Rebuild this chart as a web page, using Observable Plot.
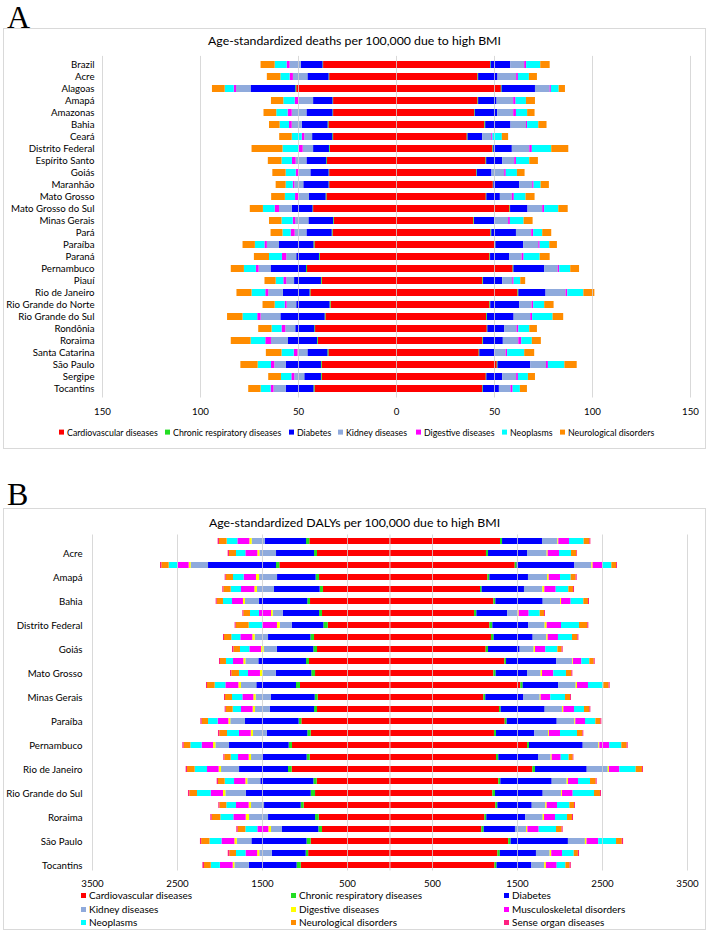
<!DOCTYPE html>
<html>
<head>
<meta charset="utf-8">
<script src="https://cdn.jsdelivr.net/npm/d3@7"></script>
<script src="https://cdn.jsdelivr.net/npm/@observablehq/plot@0.6"></script>
<style>
  body { margin: 0; background: #fff; font-family: Lato, "Open Sans", sans-serif; }
  #page { position: relative; width: 709px; height: 931px; overflow: hidden; background: #fff; }
  .plabel { position: absolute; font-family: "Liberation Serif", "DejaVu Serif", serif; font-size: 32px; line-height: 1; color: #000; }
  .frame { position: absolute; border: 1px solid #d9d9d9; box-sizing: border-box; }
  .title { position: absolute; left: 0; width: 709px; text-align: center; font-size: 12.3px; line-height: 1; color: #000; }
  .chart { position: absolute; left: 0; }
  .lg { position: absolute; line-height: 1; color: #000; white-space: nowrap; transform: translateY(-50%); }
  .lgA { font-size: 8.8px; }
  .lgB { font-size: 10px; }
  .sw { display: inline-block; width: 5px; height: 5px; margin-right: 3px; vertical-align: 1px; }
</style>
</head>
<body>
<div id="page">
  <div class="plabel" style="left:7px; top:1px;">A</div>
  <div class="frame" style="left:3px; top:28px; width:703px; height:421px;"></div>
  <div class="title" style="top:35px;">Age-standardized deaths per 100,000 due to high BMI</div>
  <div class="chart" id="chartA" style="top:48px;"></div>
  <div id="legendA"></div>

  <div class="plabel" style="left:7px; top:478px;">B</div>
  <div class="frame" style="left:3px; top:508px; width:703px; height:422px;"></div>
  <div class="title" style="top:517px;">Age-standardized DALYs per 100,000 due to high BMI</div>
  <div class="chart" id="chartB" style="top:528px;"></div>
  <div id="legendB"></div>
</div>
<script>
// ---------- categories ----------
const states = ["Brazil","Acre","Alagoas","Amapá","Amazonas","Bahia","Ceará","Distrito Federal","Espírito Santo","Goiás","Maranhão","Mato Grosso","Mato Grosso do Sul","Minas Gerais","Pará","Paraíba","Paraná","Pernambuco","Piauí","Rio de Janeiro","Rio Grande do Norte","Rio Grande do Sul","Rondônia","Roraima","Santa Catarina","São Paulo","Sergipe","Tocantins"];

const causesA = ["Cardiovascular diseases","Chronic respiratory diseases","Diabetes","Kidney diseases","Digestive diseases","Neoplasms","Neurological disorders"];
const colorsA = ["#ff0000","#22dd22","#0000ff","#8faadc","#ff00ff","#00ffff","#ff8c00"];

const causesB = ["Cardiovascular diseases","Chronic respiratory diseases","Diabetes","Kidney diseases","Digestive diseases","Musculoskeletal disorders","Neoplasms","Neurological disorders","Sense organ diseases"];
const colorsB = ["#ff0000","#22dd22","#0000ff","#8faadc","#ffff00","#ff00ff","#00ffff","#ff8c00","#ff2080"];

// tick labels
const ticksA = [-150,-100,-50,0,50,100,150];
const ticksB = [-3500,-2500,-1500,-500,500,1500,2500,3500];

// ---------- Panel A: deaths per 100,000, left side ----------
const deathsLeftCardio    = [37.2,34.1,50.9,32.1,32.1,34.5,32.1,33.8,35.2,34.1,34.1,35.5,42.3,31.7,32.4,41.6,38.9,45.4,37.9,43.7,33.4,36.0,41.3,39.9,34.5,37.9,37.9,41.6];
const deathsLeftChronic   = [0.3,0.3,0.5,0.3,0.3,0.4,0.4,0.4,0.4,0.3,0.3,0.4,0.3,0.4,0.4,0.5,0.4,0.5,0.4,0.4,0.5,0.4,0.4,0.4,0.5,0.4,0.4,0.5];
const deathsLeftDiabetes  = [11.1,10.8,22.8,9.9,13.3,13.2,10.3,8.1,10.1,9.3,12.9,8.5,10.6,12.6,12.9,17.6,11.6,18.1,13.7,13.6,17.0,22.6,9.7,14.8,10.2,18.0,8.5,14.2];
const deathsLeftKidney    = [5.7,7.4,7.4,7.5,7.5,5.1,4.0,5.3,5.5,5.8,4.6,5.3,6.5,6.7,6.0,6.2,5.1,6.1,4.0,7.5,4.9,10.1,5.1,8.7,5.1,5.8,5.1,6.2];
const deathsLeftDigestive = [1.5,1.7,1.2,1.9,2.1,1.4,1.3,2.1,1.9,1.7,0.8,1.8,2.2,1.3,2.1,1.2,2.2,1.4,1.5,1.5,1.0,1.7,1.9,2.9,1.9,1.7,1.5,1.5];
const deathsLeftNeoplasms = [6.1,4.7,4.6,5.8,5.8,4.8,5.1,8.2,5.3,5.1,3.6,5.2,6.0,5.7,4.1,4.9,6.6,6.1,3.9,7.0,5.1,7.5,5.1,7.5,6.2,6.8,5.3,5.1];
const deathsLeftNeuro     = [7.2,6.9,6.5,6.3,6.5,5.4,6.4,15.8,7.0,6.8,5.1,7.0,6.7,6.4,6.1,6.3,7.7,6.7,5.7,7.7,6.2,7.9,6.8,10.1,8.0,8.8,6.5,6.3];

// ---------- Panel A: deaths per 100,000, right side ----------
const deathsRightCardio    = [48.0,41.6,53.5,41.6,39.9,45.1,36.1,49.2,45.7,40.9,49.4,45.8,57.9,39.5,48.2,50.3,47.7,59.5,44.1,62.0,47.7,46.0,46.3,44.1,42.2,51.4,45.8,44.0];
const deathsRightChronic   = [0.3,0.3,0.4,0.3,0.3,0.4,0.4,0.4,0.3,0.3,0.3,0.3,0.3,0.3,0.4,0.4,0.3,0.4,0.3,0.4,0.4,0.4,0.3,0.3,0.3,0.4,0.3,0.3];
const deathsRightDiabetes  = [10.0,9.9,17.0,9.4,11.4,12.9,7.5,9.5,8.2,7.5,13.2,6.9,8.9,10.3,12.6,14.2,9.8,15.7,9.8,13.9,14.8,13.6,8.6,10.1,7.8,16.7,8.1,8.2];
const deathsRightKidney    = [7.1,9.5,7.5,8.5,8.2,7.9,4.6,8.9,6.1,6.5,6.6,6.1,7.5,7.1,7.8,7.7,6.3,6.9,5.1,10.2,6.3,8.5,6.3,7.9,5.6,8.0,7.1,5.9];
const deathsRightDigestive = [1.0,0.9,0.6,1.2,1.4,0.6,0.6,1.3,0.9,0.8,0.7,1.0,1.0,0.9,1.0,0.7,1.0,0.8,0.7,0.9,0.8,1.0,0.9,1.5,0.8,1.0,0.9,1.1];
const deathsRightNeoplasms = [7.2,5.6,4.0,5.3,5.7,5.7,4.8,9.9,6.8,5.7,3.6,6.0,7.2,7.0,4.6,4.9,8.2,5.6,3.4,8.2,5.6,10.4,5.6,5.4,8.7,8.4,5.1,3.7];
const deathsRightNeuro     = [4.8,4.1,3.2,4.6,3.8,4.2,3.2,8.7,4.4,3.9,4.2,4.6,4.8,4.6,4.6,3.9,5.1,4.5,2.5,5.6,4.8,5.4,3.9,4.6,5.1,6.3,3.6,3.6];

// ---------- Panel B: DALYs per 100,000, left side ----------
const dalysLeftCardio    = [943,853,1296,829,783,935,794,727,888,853,947,876,1053,845,853,1037,927,1147,939,1151,857,876,1010,833,794,927,957,1044];
const dalysLeftChronic   = [39,35,39,40,39,32,35,51,43,43,35,44,47,35,35,32,40,39,36,43,39,51,35,43,43,49,29,49];
const dalysLeftDiabetes  = [487,447,800,454,537,568,428,373,498,431,561,419,467,518,522,631,478,702,529,576,624,765,431,553,428,649,400,561];
const dalysLeftKidney    = [153,196,204,212,200,165,117,141,157,153,153,153,180,177,172,173,161,161,125,212,153,239,153,224,129,171,146,171];
const dalysLeftDigestive = [27,24,24,36,31,24,20,32,28,32,24,32,31,27,28,23,27,27,28,28,23,28,28,39,31,29,25,20];
const dalysLeftMusculo   = [141,141,129,145,157,129,141,176,141,137,121,141,153,129,137,126,138,134,125,137,133,145,149,145,130,152,137,151];
const dalysLeftNeoplasms = [126,110,106,125,122,106,106,157,106,110,83,106,126,122,98,113,141,133,87,145,110,161,114,153,141,141,112,107];
const dalysLeftNeuro     = [90,82,86,86,86,74,79,153,86,78,70,90,90,82,82,75,90,79,74,90,79,90,82,102,90,98,78,79];
const dalysLeftSense     = [16,16,16,12,12,12,11,12,12,16,12,15,12,12,12,15,16,15,12,16,15,16,12,16,16,14,19,19];

// ---------- Panel B: DALYs per 100,000, right side ----------
const dalysRightCardio    = [1300,1135,1473,1151,1065,1222,994,1175,1194,1131,1351,1222,1539,1104,1288,1355,1229,1618,1253,1680,1280,1210,1245,1116,1080,1396,1269,1235];
const dalysRightChronic   = [24,24,23,24,19,23,28,35,31,28,20,27,28,23,20,23,24,23,27,32,24,31,24,23,28,29,29,24];
const dalysRightDiabetes  = [470,459,679,454,498,557,364,423,459,372,592,369,419,448,517,589,451,632,467,608,604,561,404,459,368,674,425,410];
const dalysRightKidney    = [181,231,200,224,216,204,122,192,161,165,188,160,204,192,204,208,161,184,149,247,176,216,160,204,130,200,161,151];
const dalysRightDigestive = [11,12,15,20,24,12,12,24,16,16,8,16,16,11,16,11,11,12,12,15,16,11,16,16,16,19,19,20];
const dalysRightMusculo   = [126,133,110,133,133,113,117,169,121,121,98,133,129,114,126,114,130,117,106,122,118,126,122,129,133,137,127,127];
const dalysRightNeoplasms = [172,141,110,125,149,149,130,211,165,142,94,149,181,173,117,122,200,141,94,192,141,251,145,141,204,210,137,102];
const dalysRightNeuro     = [67,63,55,59,55,55,51,98,63,50,51,63,62,59,63,58,63,63,47,75,66,70,55,59,66,68,49,49];
const dalysRightSense     = [12,8,11,12,12,12,11,12,12,12,12,12,12,11,12,12,11,12,8,11,12,12,11,12,12,15,14,15];

// ---------- build long tables ----------
function buildRows(causes, leftArrays, rightArrays) {
  const rows = [];
  causes.forEach((cause, k) => {
    states.forEach((state, i) => {
      rows.push({state, cause, value: -leftArrays[k][i]});
      rows.push({state, cause, value: rightArrays[k][i]});
    });
  });
  return rows;
}

const rowsA = buildRows(causesA,
  [deathsLeftCardio, deathsLeftChronic, deathsLeftDiabetes, deathsLeftKidney, deathsLeftDigestive, deathsLeftNeoplasms, deathsLeftNeuro],
  [deathsRightCardio, deathsRightChronic, deathsRightDiabetes, deathsRightKidney, deathsRightDigestive, deathsRightNeoplasms, deathsRightNeuro]);

const rowsB = buildRows(causesB,
  [dalysLeftCardio, dalysLeftChronic, dalysLeftDiabetes, dalysLeftKidney, dalysLeftDigestive, dalysLeftMusculo, dalysLeftNeoplasms, dalysLeftNeuro, dalysLeftSense],
  [dalysRightCardio, dalysRightChronic, dalysRightDiabetes, dalysRightKidney, dalysRightDigestive, dalysRightMusculo, dalysRightNeoplasms, dalysRightNeuro, dalysRightSense]);

const gridStyle = {stroke: "#cfcfcf", strokeOpacity: 0.8, strokeWidth: 1};
const absFormat = d => String(Math.abs(d));

// ---------- Panel A chart ----------
const chartA = Plot.plot({
  width: 709, height: 375,
  marginLeft: 102, marginRight: 19, marginTop: 7.9, marginBottom: 25.5,
  style: {fontFamily: "Lato, sans-serif", fontSize: "9.7px", color: "#000", background: "transparent", overflow: "visible"},
  x: {domain: [-150, 150], ticks: ticksA, tickFormat: absFormat, tickSize: 0, tickPadding: 10, label: null},
  y: {domain: states, paddingInner: 0.45, paddingOuter: 0.225, tickSize: 0, tickPadding: 8, label: null},
  color: {domain: causesA, range: colorsA},
  marks: [
    Plot.barX(rowsA, {x: "value", y: "state", fill: "cause", order: causesA}),
    Plot.ruleX(ticksA, gridStyle)
  ]
});
document.getElementById("chartA").appendChild(chartA);

// ---------- Panel B chart ----------
const chartB = Plot.plot({
  width: 709, height: 370,
  marginLeft: 92, marginRight: 22, marginTop: 6.5, marginBottom: 27.5,
  style: {fontFamily: "Lato, sans-serif", fontSize: "9.7px", color: "#000", background: "transparent", overflow: "visible"},
  x: {domain: [-3500, 3500], ticks: ticksB, tickFormat: absFormat, tickSize: 0, tickPadding: 9, label: null},
  y: {domain: states, paddingInner: 0.5, paddingOuter: 0.25, tickSize: 0, tickPadding: 10, label: null,
      tickFormat: d => (states.indexOf(d) % 2 === 1 ? d : "")},
  color: {domain: causesB, range: colorsB},
  marks: [
    Plot.barX(rowsB, {x: "value", y: "state", fill: "cause", order: causesB}),
    Plot.ruleX(ticksB.concat([0]), gridStyle)
  ]
});
document.getElementById("chartB").appendChild(chartB);

// ---------- legends ----------
function addLegend(containerId, cls, causes, colors, positions) {
  const el = document.getElementById(containerId);
  causes.forEach((c, i) => {
    const [x, y] = positions[i];
    const item = document.createElement("div");
    item.className = "lg " + cls;
    item.style.left = x + "px";
    item.style.top = y + "px";
    const sw = document.createElement("span");
    sw.className = "sw";
    sw.style.background = colors[i];
    item.appendChild(sw);
    item.appendChild(document.createTextNode(c));
    el.appendChild(item);
  });
}
addLegend("legendA", "lgA", causesA, colorsA, [[59,433],[165,433],[289,433],[338,433],[416,433],[502,433],[560,433]]);
addLegend("legendB", "lgB", causesB, colorsB, [[81,895],[291,895],[504,895],[81,908.5],[291,908.5],[504,908.5],[81,922],[291,922],[504,922]]);
</script>
</body>
</html>
